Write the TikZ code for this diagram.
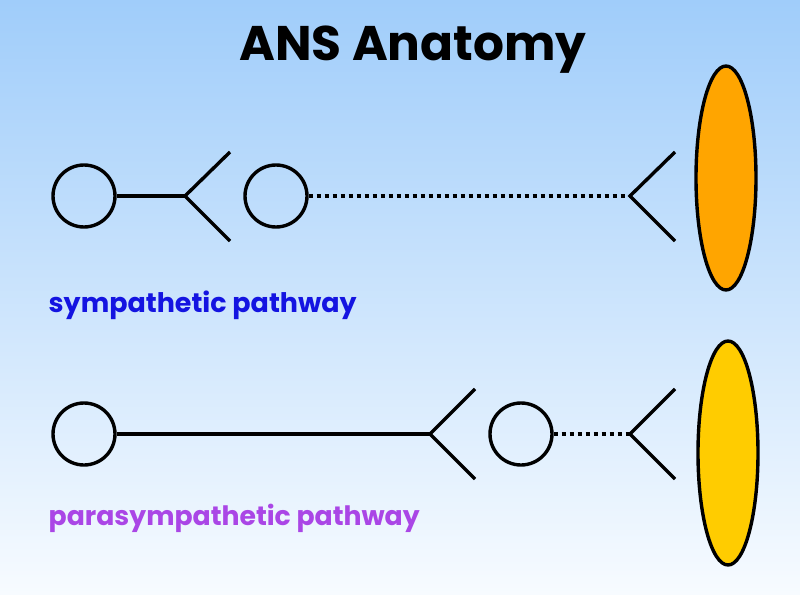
\documentclass[tikz,border=0pt]{standalone}
\usepackage{fontspec}
\setmainfont{Poppins}
\usetikzlibrary{shapes.geometric}
\definecolor{bgtop}{RGB}{160,205,250}
\definecolor{bgbot}{RGB}{247,251,255}
\definecolor{symblue}{RGB}{20,20,225}
\definecolor{parapurple}{RGB}{170,70,230}
\definecolor{organorange}{RGB}{255,165,0}
\definecolor{organyellow}{RGB}{255,204,0}
\begin{document}
\begin{tikzpicture}[x=1pt,y=-1pt,line width=3.4pt,
  neuron/.style={circle,draw=black,line width=3.4pt,minimum size=62pt,inner sep=0pt},
  organ/.style={ellipse,draw=black,line width=3.4pt,minimum width=60pt,minimum height=224pt,inner sep=0pt},
  axon/.style={draw=black,line width=3.4pt},
  postaxon/.style={draw=black,line width=3.6pt,dash pattern=on 4pt off 4pt},
  arm/.style={draw=black,line width=3.4pt},
  lbl/.style={anchor=base west,inner sep=0pt,font=\bfseries}]
\shade[top color=bgtop,bottom color=bgbot] (0,0) rectangle (800,594);
\useasboundingbox (0,0) rectangle (800,594);
% title
\node[anchor=base,inner sep=0pt,font=\bfseries] (title) at (413,61) {\resizebox{347pt}{!}{ANS Anatomy}};
% sympathetic
\node[neuron] (s1) at (84,196) {};
\coordinate (sj1) at (185,196);
\coordinate (sa1) at (230,152);
\coordinate (sb1) at (230,241);
\node[neuron] (s2) at (276,196) {};
\coordinate (sj2) at (630,196);
\coordinate (sa2) at (675,152);
\coordinate (sb2) at (675,241);
\node[organ,fill=organorange] (o1) at (726,178) {};
\draw[axon] (s1) -- (sj1);
\draw[arm] (sa1) -- (sj1) -- (sb1);
\draw[postaxon] (s2.east) -- (sj2);
\draw[arm] (sa2) -- (sj2) -- (sb2);
\node[lbl,text=symblue] (slabel) at (47,312) {\resizebox{308pt}{!}{sympathetic pathway}};
% parasympathetic
\node[neuron] (p1) at (84,434) {};
\coordinate (pj1) at (430,434);
\coordinate (pa1) at (475,389);
\coordinate (pb1) at (475,479);
\node[neuron] (p2) at (521,434) {};
\coordinate (pj2) at (630,434);
\coordinate (pa2) at (675,389);
\coordinate (pb2) at (675,479);
\node[organ,fill=organyellow] (o2) at (728,453) {};
\draw[axon] (p1) -- (pj1);
\draw[arm] (pa1) -- (pj1) -- (pb1);
\draw[postaxon] (p2.east) -- (pj2);
\draw[arm] (pa2) -- (pj2) -- (pb2);
\node[lbl,text=parapurple] (plabel) at (47,525) {\resizebox{371pt}{!}{parasympathetic pathway}};
\end{tikzpicture}
\end{document}
